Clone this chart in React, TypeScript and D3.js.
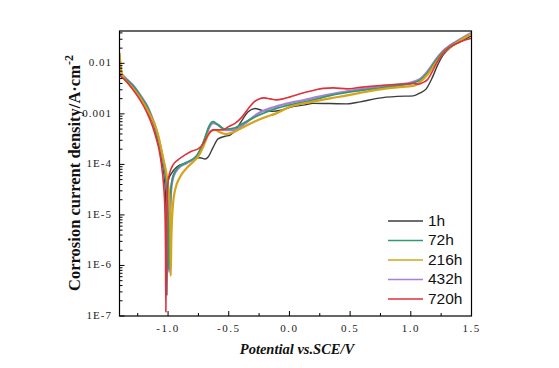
import React from 'react';
import * as d3 from 'd3';

type Pt = [number, number];

const seriesNames = ['1h', '72h', '216h', '432h', '720h'];
const seriesColors = ['#3c3c3c', '#2f9a6c', '#d6a31a', '#a97fd8', '#e0313b'];

// Potential (V vs SCE), current density (A/cm^2)
const s1h: Pt[] = [
  [-1.395, 6.0e-3], [-1.355, 4.7e-3], [-1.272, 2.85e-3], [-1.223, 1.89e-3], [-1.19, 1.44e-3],
  [-1.157, 9.5e-4], [-1.132, 7.3e-4], [-1.107, 4.8e-4], [-1.091, 3.35e-4], [-1.066, 1.94e-4],
  [-1.049, 1.1e-4], [-1.033, 6.2e-5], [-1.021, 2.5e-5], [-1.014, 6e-6], [-1.01, 2.6e-7],
  [-1.006, 5e-6], [-1.0, 2.8e-5], [-0.998, 4.9e-5], [-0.969, 6.8e-5], [-0.901, 9.8e-5],
  [-0.852, 1.05e-4], [-0.763, 1.33e-4], [-0.736, 1.35e-4], [-0.695, 1.28e-4], [-0.67, 1.4e-4],
  [-0.629, 2.17e-4], [-0.588, 3.2e-4], [-0.53, 3.6e-4], [-0.489, 3.8e-4], [-0.448, 4.6e-4],
  [-0.398, 7.0e-4], [-0.34, 1.1e-3], [-0.283, 1.28e-3], [-0.225, 1.17e-3], [-0.143, 1.12e-3],
  [-0.06, 1.2e-3], [0.006, 1.35e-3], [0.129, 1.51e-3], [0.195, 1.61e-3], [0.335, 1.6e-3],
  [0.476, 1.58e-3], [0.583, 1.73e-3], [0.723, 2.03e-3], [0.888, 2.22e-3], [1.02, 2.27e-3],
  [1.078, 2.61e-3], [1.127, 3.13e-3], [1.176, 5.16e-3], [1.218, 8.9e-3], [1.267, 1.47e-2],
  [1.325, 2.03e-2], [1.407, 2.67e-2], [1.5, 3.5e-2],
];

const s72h: Pt[] = [
  [-1.395, 6.3e-3], [-1.355, 5.1e-3], [-1.272, 3.2e-3], [-1.214, 2.0e-3], [-1.173, 1.4e-3],
  [-1.14, 9.3e-4], [-1.115, 6.4e-4], [-1.091, 4.1e-4], [-1.066, 2.35e-4], [-1.041, 1.18e-4],
  [-1.025, 6.8e-5], [-1.012, 3.6e-5], [-1.004, 1.6e-5], [-0.996, 3.5e-6], [-0.993, 8.5e-7],
  [-0.989, 3.0e-6], [-0.985, 8e-6], [-0.976, 3.3e-5], [-0.958, 6e-5], [-0.915, 8.8e-5],
  [-0.846, 1.1e-4], [-0.763, 1.5e-4], [-0.722, 2.3e-4], [-0.687, 3.9e-4], [-0.662, 5.7e-4],
  [-0.629, 7.0e-4], [-0.6, 6.4e-4], [-0.53, 5.0e-4], [-0.448, 5.3e-4], [-0.398, 6.2e-4],
  [-0.258, 9.3e-4], [-0.118, 1.26e-3], [0.006, 1.51e-3], [0.129, 1.73e-3], [0.335, 2.3e-3],
  [0.583, 2.9e-3], [0.888, 3.6e-3], [1.02, 4.1e-3], [1.078, 4.7e-3], [1.135, 6.4e-3],
  [1.218, 1.25e-2], [1.267, 1.7e-2], [1.325, 2.2e-2], [1.407, 2.9e-2], [1.5, 3.8e-2],
];

const s216h: Pt[] = [
  [-1.399, 1.6e-2], [-1.387, 7.4e-3], [-1.371, 5.5e-3], [-1.33, 4.1e-3], [-1.272, 2.85e-3],
  [-1.231, 2.07e-3], [-1.19, 1.44e-3], [-1.148, 9.5e-4], [-1.115, 6.6e-4], [-1.082, 3.84e-4],
  [-1.058, 2.12e-4], [-1.037, 1.23e-4], [-1.016, 7.1e-5], [-1.0, 3.9e-5], [-0.988, 2.0e-5],
  [-0.981, 5.0e-6], [-0.978, 6.2e-7], [-0.973, 3.2e-6], [-0.961, 1.44e-5], [-0.942, 3.13e-5],
  [-0.901, 5.65e-5], [-0.846, 8.5e-5], [-0.794, 1.12e-4], [-0.753, 1.41e-4], [-0.711, 2.2e-4],
  [-0.678, 3.5e-4], [-0.645, 4.6e-4], [-0.613, 4.8e-4], [-0.571, 4.31e-4], [-0.522, 4.0e-4],
  [-0.464, 4.3e-4], [-0.39, 5.3e-4], [-0.324, 6.4e-4], [-0.258, 7.6e-4], [-0.184, 8.9e-4],
  [-0.118, 1.0e-3], [0.006, 1.38e-3], [0.195, 1.75e-3], [0.335, 2.03e-3], [0.476, 2.32e-3],
  [0.583, 2.61e-3], [0.748, 3.06e-3], [0.888, 3.35e-3], [1.02, 3.58e-3], [1.078, 4.3e-3],
  [1.135, 5.9e-3], [1.218, 1.12e-2], [1.267, 1.6e-2], [1.325, 2.1e-2], [1.407, 2.85e-2],
  [1.5, 3.8e-2],
];

const s432h: Pt[] = [
  [-1.395, 6.5e-3], [-1.355, 5.2e-3], [-1.272, 3.3e-3], [-1.214, 2.07e-3], [-1.173, 1.44e-3],
  [-1.14, 9.5e-4], [-1.115, 6.6e-4], [-1.091, 4.2e-4], [-1.066, 2.43e-4], [-1.041, 1.23e-4],
  [-1.025, 7.1e-5], [-1.012, 3.9e-5], [-1.004, 2.0e-5], [-0.996, 5.0e-6], [-0.992, 7.4e-7],
  [-0.988, 3.2e-6], [-0.984, 7.1e-6], [-0.975, 3.1e-5], [-0.956, 5.7e-5], [-0.915, 8.4e-5],
  [-0.846, 1.07e-4], [-0.763, 1.43e-4], [-0.722, 2.2e-4], [-0.687, 3.66e-4], [-0.662, 5.3e-4],
  [-0.629, 6.6e-4], [-0.588, 6.05e-4], [-0.53, 4.8e-4], [-0.448, 4.8e-4], [-0.365, 6.5e-4],
  [-0.258, 1.02e-3], [-0.118, 1.38e-3], [0.006, 1.65e-3], [0.129, 1.89e-3], [0.195, 2.07e-3],
  [0.335, 2.43e-3], [0.476, 2.79e-3], [0.583, 3.06e-3], [0.748, 3.51e-3], [0.888, 3.75e-3],
  [1.02, 4.3e-3], [1.078, 4.9e-3], [1.135, 6.8e-3], [1.218, 1.29e-2], [1.267, 1.77e-2],
  [1.325, 2.27e-2], [1.407, 2.99e-2], [1.5, 4.0e-2],
];

const s720h: Pt[] = [
  [-1.395, 5.65e-3], [-1.355, 4.71e-3], [-1.289, 2.99e-3], [-1.231, 1.89e-3], [-1.173, 1.05e-3],
  [-1.132, 6.05e-4], [-1.099, 3.35e-4], [-1.074, 1.94e-4], [-1.054, 9.77e-5], [-1.037, 3.92e-5],
  [-1.026, 1.26e-5], [-1.021, 2.03e-6], [-1.018, 1.2e-7], [-1.014, 3.2e-6], [-1.008, 1.98e-5],
  [-1.0, 4.5e-5], [-0.984, 7.1e-5], [-0.959, 9.77e-5], [-0.918, 1.23e-4], [-0.86, 1.54e-4],
  [-0.802, 1.85e-4], [-0.753, 2.03e-4], [-0.711, 2.55e-4], [-0.67, 3.84e-4], [-0.629, 4.82e-4],
  [-0.588, 4.82e-4], [-0.547, 4.82e-4], [-0.505, 5.53e-4], [-0.448, 6.5e-4], [-0.39, 8.73e-4],
  [-0.34, 1.26e-3], [-0.291, 1.73e-3], [-0.25, 1.98e-3], [-0.209, 2.07e-3], [-0.159, 1.98e-3],
  [-0.11, 1.89e-3], [-0.052, 1.98e-3], [0.006, 2.17e-3], [0.088, 2.49e-3], [0.195, 2.9e-3],
  [0.278, 3.2e-3], [0.36, 3.27e-3], [0.476, 3.13e-3], [0.583, 3.35e-3], [0.723, 3.6e-3],
  [0.888, 3.85e-3], [1.02, 4.0e-3], [1.061, 3.84e-3], [1.094, 4.11e-3], [1.135, 4.71e-3],
  [1.176, 6.79e-3], [1.218, 1.07e-2], [1.267, 1.61e-2], [1.325, 2.12e-2], [1.407, 2.67e-2],
  [1.5, 3.13e-2],
];

const seriesData = [s1h, s72h, s216h, s432h, s720h];
const drawOrder = [0, 3, 1, 2, 4];
const lineWidths = [1.4, 1.8, 2.2, 2.4, 1.6];

const xTickValues = [-1.0, -0.5, 0.0, 0.5, 1.0, 1.5];
const xTickLabels = ['-1.0', '-0.5', '0.0', '0.5', '1.0', '1.5'];
const xMinorValues = [-1.25, -0.75, -0.25, 0.25, 0.75, 1.25];
const yTickValues = [1e-7, 1e-6, 1e-5, 1e-4, 1e-3, 1e-2];
const yTickLabels = ['1E-7', '1E-6', '1E-5', '1E-4', '0.001', '0.01'];

export default function App() {
  const W = 559, H = 368;
  const left = 119.5, right = 471.5, top = 31, bottom = 316;
  const yMax = Math.pow(10, -1.36);
  const x = d3.scaleLinear().domain([-1.4, 1.5]).range([left, right]);
  const y = d3.scaleLog().domain([1e-7, yMax]).range([bottom, top]);
  const line = d3.line<Pt>().x(d => x(d[0])).y(d => y(d[1])).curve(d3.curveMonotoneX);

  const minorY: number[] = [];
  for (let e = -7; e <= -2; e++) {
    for (let k = 2; k <= 9; k++) {
      const v = k * Math.pow(10, e);
      if (v < yMax) minorY.push(v);
    }
  }

  const serif = "'Liberation Serif', 'DejaVu Serif', serif";
  const legendX0 = 388, legendX1 = 423, legendY0 = 221, legendDy = 19.5;

  return (
    <svg width={W} height={H} style={{ position: 'absolute', left: 0, top: 0, background: '#fff' }}>
      <rect x={0} y={0} width={W} height={H} fill="#fff" />
      <defs>
        <clipPath id="plotclip">
          <rect x={left} y={top} width={right - left} height={bottom - top} />
        </clipPath>
      </defs>
      <g clipPath="url(#plotclip)">
        {drawOrder.map(i => (
          <path key={i} d={line(seriesData[i]) || ''} fill="none" stroke={seriesColors[i]}
            strokeWidth={lineWidths[i]} strokeLinejoin="round" />
        ))}
      </g>
      <rect x={left} y={top} width={right - left} height={bottom - top} fill="none" stroke="#000" strokeWidth={1.2} />
      {/* x ticks */}
      {xTickValues.map((v, i) => (
        <g key={'xt' + i}>
          {v < 1.5 && <line x1={x(v)} x2={x(v)} y1={bottom} y2={bottom - 5} stroke="#000" strokeWidth={1} />}
          <text x={x(v)} y={329} textAnchor="middle" dominantBaseline="middle" fontFamily={serif}
            fontSize={11} letterSpacing={1.5} fill="#222">{xTickLabels[i]}</text>
        </g>
      ))}
      {xMinorValues.map((v, i) => (
        <line key={'xm' + i} x1={x(v)} x2={x(v)} y1={bottom} y2={bottom - 3} stroke="#000" strokeWidth={1} />
      ))}
      {/* y ticks */}
      {yTickValues.map((v, i) => (
        <g key={'yt' + i}>
          <line x1={left} x2={left + 5} y1={y(v)} y2={y(v)} stroke="#000" strokeWidth={1} />
          <text x={112} y={y(v) + 0.5} textAnchor="end" dominantBaseline="middle" fontFamily={serif}
            fontSize={11} letterSpacing={1} fill="#222">{yTickLabels[i]}</text>
        </g>
      ))}
      {minorY.map((v, i) => (
        <line key={'ym' + i} x1={left} x2={left + 3} y1={y(v)} y2={y(v)} stroke="#000" strokeWidth={1} />
      ))}
      {/* axis titles */}
      <text x={297} y={351} textAnchor="middle" dominantBaseline="middle" fontFamily={serif}
        fontSize={14.5} fontWeight="bold" fontStyle="italic" fill="#111">Potential vs.SCE/V</text>
      <text transform={`translate(80, 173) rotate(-90)`} textAnchor="middle" fontFamily={serif}
        fontSize={16.5} fontWeight="bold" fill="#111">
        Corrosion current density/A·cm<tspan dy={-7} fontSize={12}>-2</tspan>
      </text>
      {/* legend */}
      {seriesNames.map((n, i) => (
        <g key={'lg' + i}>
          <line x1={legendX0} x2={legendX1} y1={legendY0 + i * legendDy} y2={legendY0 + i * legendDy}
            stroke={seriesColors[i]} strokeWidth={1.3} />
          <text x={428} y={legendY0 + i * legendDy + 0.5} dominantBaseline="middle"
            fontFamily="'Liberation Sans', Arial, sans-serif" fontSize={15.5} fill="#111">{n}</text>
        </g>
      ))}
    </svg>
  );
}
